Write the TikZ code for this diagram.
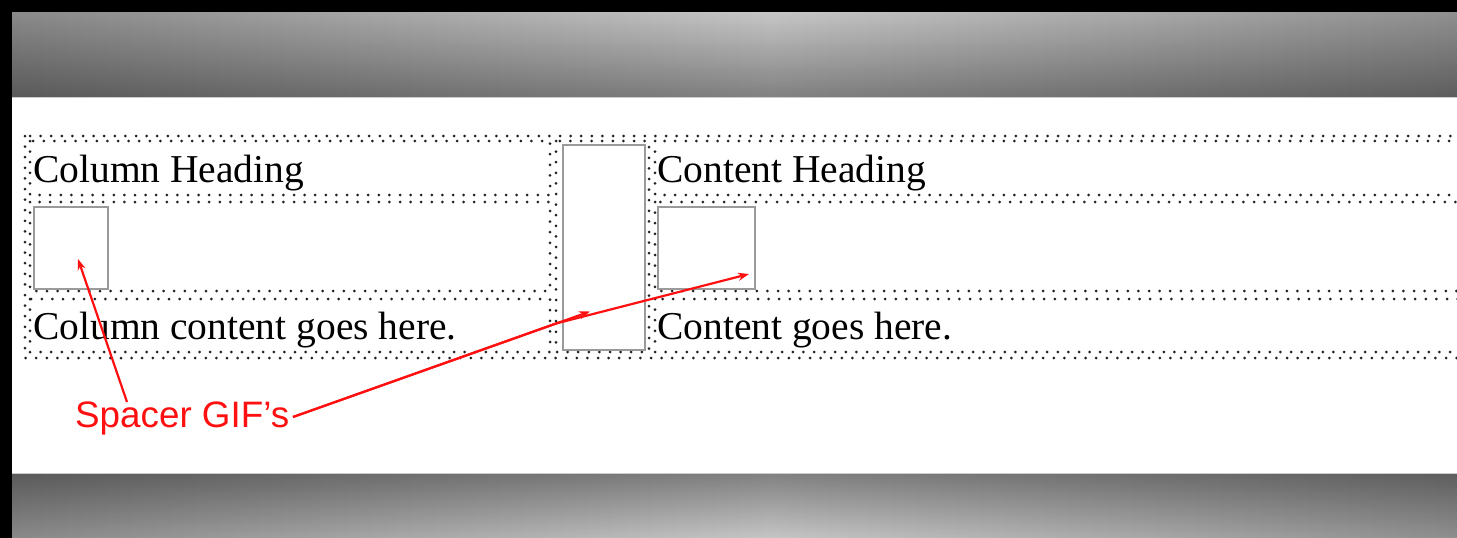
\documentclass[tikz,border=0pt]{standalone}
\usepackage{fontspec}
\setmainfont{Liberation Serif}
\newfontfamily\labelfont{Liberation Sans}
\usetikzlibrary{arrows.meta,fadings}
\definecolor{dotgray}{HTML}{222222}
\definecolor{boxgray}{HTML}{9A9A9A}
\definecolor{arrowred}{HTML}{FF1010}
\definecolor{bandedge}{HTML}{8A8A8A}
\definecolor{bandmid}{HTML}{C6C6C6}
\tikzset{
  dotcell/.style={draw=dotgray, line width=3pt, line cap=round, dash pattern=on 0pt off 10.6pt},
  spacerbox/.style={draw=boxgray, line width=1.8pt, fill=white},
  celltext/.style={anchor=base west, inner sep=0pt, font=\fontsize{39.5}{41}\selectfont, text=black},
  redlabel/.style={anchor=base west, inner sep=0pt, font=\labelfont\fontsize{36.8}{38}\selectfont, text=arrowred},
  redarrow/.style={draw=arrowred, line width=2.2pt, line join=round, -{Stealth[length=11pt,width=8pt]}},
}
\begin{document}
\begin{tikzpicture}[x=1pt,y=-1pt]
\useasboundingbox (0,0) rectangle (1457,538);
% background
\fill[black] (0,0) rectangle (1457,538);
\shade[left color=bandedge, right color=bandedge, middle color=bandmid] (12,12) rectangle (1530,97);
\fill[black, fill opacity=0.35, path fading=north] (12,12) rectangle (1530,97);
\shade[left color=bandedge, right color=bandedge, middle color=bandmid] (12,473) rectangle (1530,538);
\fill[black, fill opacity=0.35, path fading=south] (12,473) rectangle (1530,538);
\fill[white] (12,97) rectangle (1470,473);
\draw[gray!40, line width=1pt] (12,97) -- (1470,97);
\draw[gray!40, line width=1pt] (12,473) -- (1470,473);
% table cells
\draw[dotcell] (25,136) rectangle (1475,358);
\draw[dotcell] (30,141) rectangle (550,195);
\draw[dotcell] (30,202) rectangle (550,291);
\draw[dotcell] (30,299) rectangle (550,352);
\draw[dotcell] (556,141) rectangle (649,352);
\draw[dotcell] (655,141) rectangle (1475,195);
\draw[dotcell] (655,202) rectangle (1475,291);
\draw[dotcell] (655,299) rectangle (1475,352);
% spacer gifs
\node[spacerbox, inner sep=0pt, minimum width=74pt, minimum height=82pt, anchor=north west] (spL) at (33,206) {};
\node[spacerbox, inner sep=0pt, minimum width=82pt, minimum height=205pt, anchor=north west] (spM) at (562,144) {};
\node[spacerbox, inner sep=0pt, minimum width=97pt, minimum height=82pt, anchor=north west] (spR) at (657,206) {};
% texts
\node[celltext] (colhead) at (33,182) {Column Heading};
\node[celltext] (colcont) at (33,339) {Column content goes here.};
\node[celltext] (conthead) at (657,182) {Content Heading};
\node[celltext] (contcont) at (657,339) {Content goes here.};
% label and arrows
\node[redlabel] (lbl) at (75,427) {Spacer GIF’s};
\coordinate (startA) at (127,402);
\coordinate (startB) at (293,417);
\coordinate (bendR) at (556,323.5);
\coordinate (tipL) at (78,259);
\coordinate (tipM) at (590,311.5);
\coordinate (tipR) at (749,274);
\draw[redarrow] (startA) -- (tipL);
\draw[redarrow] (startB) -- (tipM);
\draw[redarrow] (startB) -- (bendR) -- (tipR);
\end{tikzpicture}
\end{document}
